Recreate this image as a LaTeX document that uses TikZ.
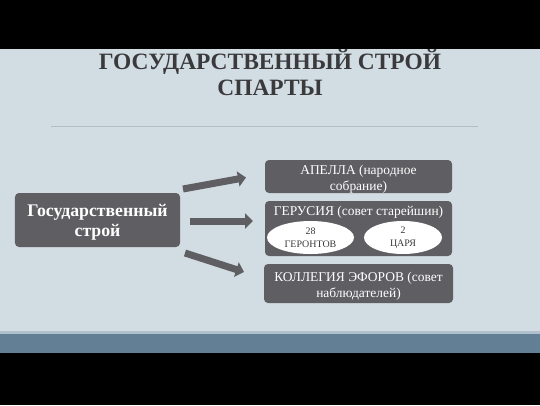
\documentclass[tikz,border=0pt]{standalone}
\usepackage{fontspec}
\setmainfont{Liberation Serif}
\usetikzlibrary{arrows.meta,shapes.geometric}
\definecolor{bgc}{HTML}{D2DCE3}
\definecolor{bandc}{HTML}{627F96}
\definecolor{boxc}{HTML}{5F5F63}
\definecolor{titlec}{HTML}{3A3A3C}
\definecolor{rulec}{HTML}{B2BCC4}
\tikzset{
  dbox/.style={draw=none, fill=boxc, rounded corners=4bp, text=white, inner sep=0pt},
  oval/.style={ellipse, fill=white, draw=none, text=titlec, inner sep=0pt, font=\fontsize{10}{13}\selectfont, align=center},
  blockarrow/.style={draw=boxc, line width=7bp, -{Triangle[length=8bp,width=15bp]}},
}
\begin{document}
\begin{tikzpicture}[x=1bp,y=-1bp]
\useasboundingbox (0,0) rectangle (540,405);
\fill[black] (0,0) rectangle (540,405);
\fill[bgc] (0,49) rectangle (540,333);
\fill[bandc] (0,333) rectangle (540,353);
\fill[bgc!70!bandc] (0,331) rectangle (540,334);
\node[text=titlec, align=center, font=\fontsize{23.5}{26}\selectfont\bfseries] (title) at (270,73) {ГОСУДАРСТВЕННЫЙ СТРОЙ\\СПАРТЫ};
\coordinate (r1) at (51,126.5);
\coordinate (r2) at (478,126.5);
\draw[rulec, line width=1.2bp] (r1) -- (r2);
% left box
\node[dbox, minimum width=165bp, minimum height=54bp] (gs) at (97.5,220) {};
\node[text=white, align=center, font=\fontsize{17.8}{20}\selectfont\bfseries] (gst) at (97.5,222) {Государственный\\строй};
% right boxes
\node[dbox, minimum width=187bp, minimum height=33bp] (ap) at (358.5,176.5) {};
\node[text=white, align=center, font=\fontsize{13.5}{16}\selectfont] (apt) at (358.5,179.5) {АПЕЛЛА (народное\\собрание)};
\node[dbox, minimum width=187bp, minimum height=55bp] (ge) at (358.5,228.5) {};
\node[text=white, font=\fontsize{13.5}{16}\selectfont] (get) at (358.5,212) {ГЕРУСИЯ (совет старейшин)};
\node[oval, minimum width=87bp, minimum height=33bp] (o1) at (310.5,237.5) {};
\node[text=titlec, align=center, font=\fontsize{10}{13}\selectfont] (o1t) at (310.5,238) {28\\ГЕРОНТОВ};
\node[oval, minimum width=78bp, minimum height=33bp] (o2) at (403,237.5) {};
\node[text=titlec, align=center, font=\fontsize{10}{13}\selectfont] (o2t) at (403,238) {2\\ЦАРЯ};
\node[dbox, minimum width=189bp, minimum height=39bp] (ko) at (358.5,283.5) {};
\node[text=white, align=center, font=\fontsize{13.5}{16.5}\selectfont] (kot) at (358.5,286.5) {КОЛЛЕГИЯ ЭФОРОВ (совет\\наблюдателей)};
% arrows
\coordinate (a1s) at (183,189);
\coordinate (a1e) at (246,177.5);
\coordinate (a2s) at (190,221);
\coordinate (a2e) at (253,221);
\coordinate (a3s) at (185,253);
\coordinate (a3e) at (244,272);
\draw[blockarrow] (a1s) -- (a1e);
\draw[blockarrow] (a2s) -- (a2e);
\draw[blockarrow] (a3s) -- (a3e);
\end{tikzpicture}
\end{document}
